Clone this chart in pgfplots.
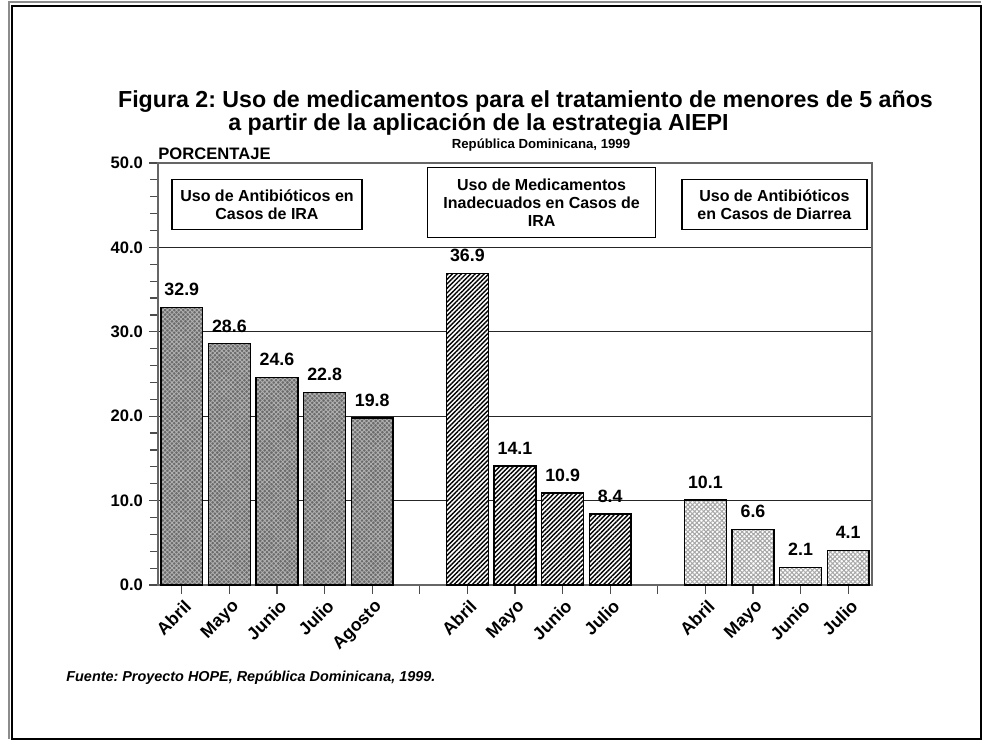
\documentclass[border=0pt]{standalone}
\usepackage{fontspec}
\setmainfont{Liberation Sans}
\usepackage{pgfplots}
\pgfplotsset{compat=1.18}
\usetikzlibrary{patterns.meta}
\frenchspacing
\begin{document}
\begin{tikzpicture}
\useasboundingbox (0,0) rectangle (491pt,370pt);
% outer frame
\draw[black!45, line width=0.7pt] (4.5pt,0.5pt) -- (4.5pt,369pt) -- (490.5pt,369pt);
\draw[black, line width=1.1pt] (6pt,0.5pt) -- (6pt,367pt) -- (490.5pt,367pt) -- (490.5pt,0.5pt) -- cycle;
% titles
\node[font=\bfseries\fontsize{11.6}{13}\selectfont] at (262.75pt,319pt) {Figura 2: Uso de medicamentos para el tratamiento de menores de 5 años};
\node[font=\bfseries\fontsize{11.6}{13}\selectfont, anchor=west, inner sep=0pt] at (114pt,308pt) {a partir de la aplicación de la estrategia AIEPI};
\node[font=\bfseries\fontsize{6.6}{8}\selectfont] at (270.5pt,297.5pt) {República Dominicana, 1999};
\node[font=\bfseries\fontsize{8.3}{10}\selectfont, anchor=west, inner sep=0pt] at (79pt,293pt) {PORCENTAJE};
\node[font=\bfseries\itshape\fontsize{7.2}{9}\selectfont, anchor=west, inner sep=0pt] at (33pt,31pt) {Fuente: Proyecto HOPE, República Dominicana, 1999.};
\begin{axis}[
  at={(79pt,77.5pt)}, anchor=south west,
  scale only axis, width=357pt, height=211pt,
  xmin=-0.5, xmax=14.5, ymin=0, ymax=50,
  clip=false,
  ybar, bar width=0.88,
  xtick={0,...,14},
  xticklabels={Abril,Mayo,Junio,Julio,Agosto,{},Abril,Mayo,Junio,Julio,{},Abril,Mayo,Junio,Julio},
  xticklabel style={rotate=45, anchor=north east, font=\bfseries\fontsize{8.8}{10}\selectfont, inner sep=1pt, yshift=-1pt},
  ytick={0,10,...,50},
  minor y tick num=4,
  yticklabel style={font=\bfseries\fontsize{8.3}{10}\selectfont, xshift=0.5pt},
  /pgf/number format/assume math mode=true,
  yticklabel={\pgfmathprintnumber[fixed,fixed zerofill,precision=1]{\tick}},
  tick align=outside,
  major tick length=4.5pt, minor tick length=4pt,
  tick style={black!70, line width=0.6pt},
  xtick pos=bottom, ytick pos=left,
  ymajorgrids, major grid style={black!85, line width=0.6pt},
  axis line style={black!60, line width=0.7pt},
  nodes near coords,
  nodes near coords style={font=\bfseries\fontsize{8.9}{10}\selectfont, anchor=south, yshift=2pt,
     /pgf/number format/.cd, fixed, fixed zerofill, precision=1},
]
\addplot[bar shift=0pt, draw=black, line width=0.75pt, fill=black!58,
  postaction={pattern={Hatch[angle=45,distance=1.6pt,line width=0.4pt]}, pattern color=black!30}]
  coordinates {(0,32.9) (1,28.6) (2,24.6) (3,22.8) (4,19.8)};
\addplot[bar shift=0pt, draw=black, line width=0.75pt, fill=white,
  postaction={pattern={Lines[angle=45,distance=1.6pt,line width=0.7pt]}, pattern color=black}]
  coordinates {(6,36.9) (7,14.1) (8,10.9) (9,8.4)};
\addplot[bar shift=0pt, draw=black, line width=0.75pt, fill=white,
  postaction={pattern={Hatch[angle=45,distance=1.6pt,line width=0.5pt]}, pattern color=black!35}]
  coordinates {(11,10.1) (12,6.6) (13,2.1) (14,4.1)};
\node[draw=black, line width=0.6pt, fill=white, align=center, minimum width=95pt, minimum height=25pt, inner sep=0pt,
  font=\bfseries\fontsize{8}{9}\selectfont] at (axis cs:1.79,45.1) {Uso de Antibióticos en\\Casos de IRA};
\node[draw=black, line width=0.6pt, fill=white, align=center, minimum width=114pt, minimum height=35pt, inner sep=0pt,
  font=\bfseries\fontsize{8}{9}\selectfont] at (axis cs:7.56,45.3) {Uso de Medicamentos\\Inadecuados en Casos de\\IRA};
\node[draw=black, line width=0.6pt, fill=white, align=center, minimum width=92.5pt, minimum height=25pt, inner sep=0pt,
  font=\bfseries\fontsize{8}{9}\selectfont] at (axis cs:12.45,45.1) {Uso de Antibióticos\\en Casos de Diarrea};
\end{axis}
\end{tikzpicture}
\end{document}
